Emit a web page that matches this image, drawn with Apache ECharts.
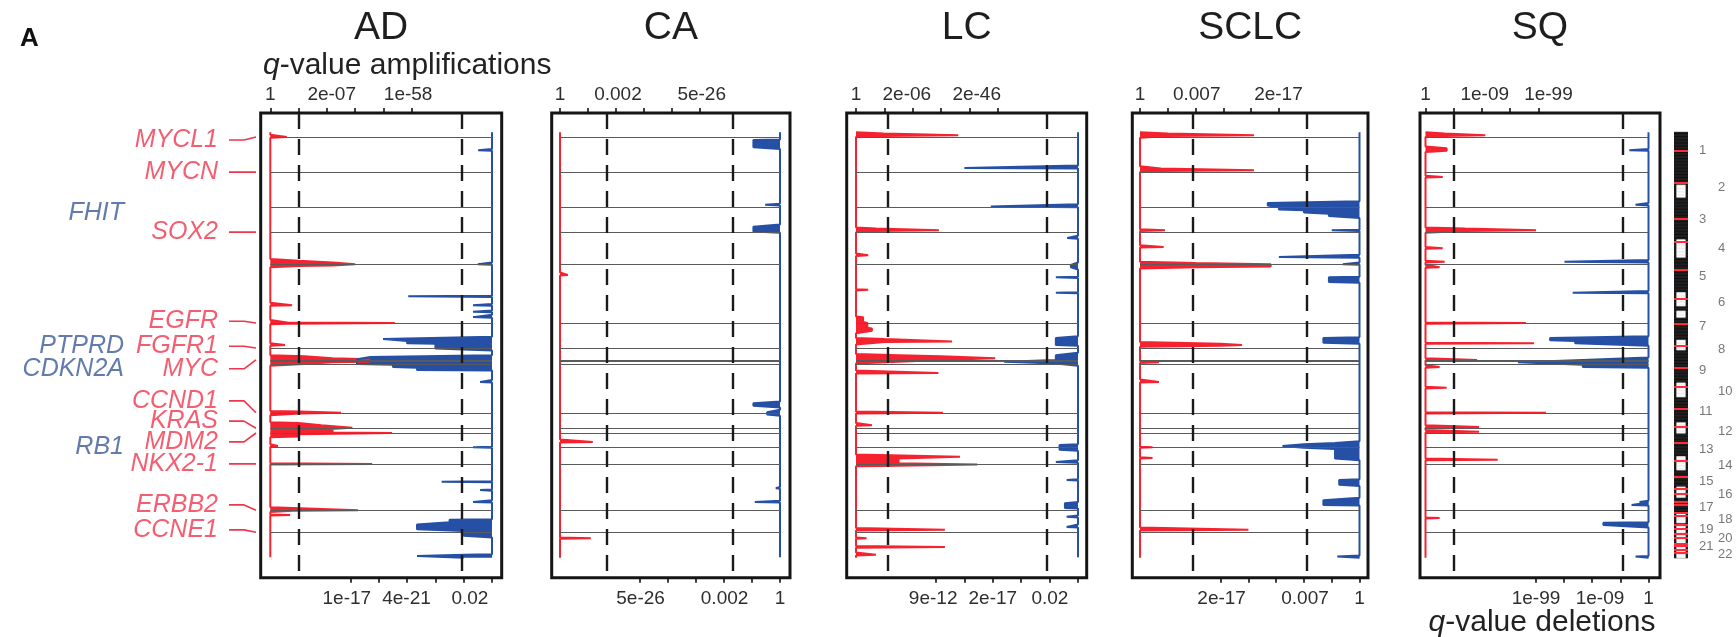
<!DOCTYPE html>
<html><head><meta charset="utf-8">
<script src="https://cdn.jsdelivr.net/npm/echarts@6/dist/echarts.min.js"></script>
<style>html,body{margin:0;padding:0;background:#fff}#c{width:1736px;height:637px}</style>
</head><body><div id="c"></div>
<script>
// ================= DATA =================
const chromNames = ['1','2','3','4','5','6','7','8','9','10','11','12','13','14','15','16','17','18','19','20','21','22'];
const chromLenMb = [247,243,199,191,181,171,159,146,140,135,134,132,114,106,100,89,79,76,64,62,47,50];
const centromereMb = [124,93,91,50,48,60,59,45,49,40,53,35,17,17,19,36,24,17,26,28,13,14];
const panelNames = ['AD','CA','LC','SCLC','SQ'];

// peaks: [genome start Mb, genome end Mb, score in axis units]
const ampAD = [[34,34,0.58],[866,904,1.0],[878,896,2.2],[888,892,3.0],[1164,1164,0.77],[1280,1290,0.6],[1285,1285,4.4],[1433,1433,0.52],
  [1510,1570,1.2],[1520,1556,2.2],[1530,1546,3.5],[1880,1900,1.05],[1891,1891,2.5],[1958,2050,1.0],[1975,2000,1.8],[1988,1996,2.9],
  [2005,2020,2.2],[2024,2030,4.3],[2113,2113,0.27],[2234,2234,3.6],[2530,2555,0.8],[2544,2544,3.1],[2578,2578,0.7]];
const delAD = [[121,121,0.49],[888,888,0.5],[1104,1104,2.96],[1164,1164,0.67],[1211,1211,0.67],[1245,1245,0.67],
  [1393,1400,3.85],[1400,1420,3.0],[1420,1467,2.0],[1514,1530,4.3],[1530,1560,4.77],[1560,1580,3.5],[1580,1601,2.65],
  [1682,1682,0.42],[2120,2120,0.67],[2355,2355,1.78],[2409,2409,0.42],[2490,2490,0.67],
  [2611,2640,1.5],[2640,2680,2.65],[2680,2725,1.0],[2845,2865,1.0],[2852,2860,2.65]];
const ampCA = [[962,962,0.28],[2084,2084,1.17],[2734,2734,1.1]];
const delCA = [[54,108,0.95],[491,491,0.53],[639,673,0.95],[1824,1851,0.95],[1884,1904,0.46],[2396,2396,0.15],[2488,2488,0.9]];
const ampLC = [[10,30,0.97],[20,20,3.6],[650,670,0.7],[660,660,2.92],[828,828,0.43],[1063,1063,0.43],[1245,1285,0.25],[1285,1320,0.4],[1320,1350,0.56],
  [1395,1425,1.0],[1410,1410,3.38],[1500,1554,1.5],[1510,1540,3.0],[1520,1530,4.9],[1622,1622,2.9],[1891,1891,3.06],[1972,1972,0.56],
  [2185,2245,1.5],[2187,2192,3.66],[2238,2243,4.27],[2678,2678,3.13],[2732,2732,0.37],[2793,2793,3.13],[2847,2847,0.7]];
const delLC = [[242,242,4.0],[503,503,3.07],[713,713,0.38],[895,922,0.25],[976,976,0.78],[1083,1083,0.78],[1386,1433,0.78],
  [1500,1568,0.78],[1545,1555,2.6],[2106,2140,0.65],[2221,2221,0.78],[2342,2342,0.4],[2497,2531,0.46],[2591,2591,0.4],[2658,2658,0.4]];
const ampSCLC = [[8,32,1.0],[20,20,4.1],[245,265,0.75],[256,256,4.1],[660,660,0.9],[774,774,0.85],[880,912,2.0],[888,904,4.7],
  [1425,1440,2.9],[1433,1433,3.67],[1548,1548,0.68],[1682,1682,0.68],[2120,2120,0.45],[2194,2194,0.45],[2678,2678,3.9]];
const delSCLC = [[478,500,3.3],[500,520,2.9],[520,545,2.0],[545,572,1.1],[660,660,1.0],[841,841,2.9],[888,888,0.6],[976,1010,1.1],
  [1386,1420,1.3],[2093,2207,0.88],[2100,2130,2.0],[2112,2120,2.77],[2342,2376,0.73],[2476,2510,1.3],[2856,2862,0.8]];
const ampSQ = [[10,30,0.68],[20,20,2.12],[110,130,0.75],[303,303,0.61],[648,672,1.4],[660,660,3.92],[781,781,0.61],[875,875,0.68],
  [908,908,0.5],[1285,1285,3.56],[1420,1420,3.85],[1534,1534,1.83],[1581,1581,0.5],[1723,1723,0.75],[1891,1891,4.27],
  [1985,1985,1.9],[2019,2019,1.9],[2207,2207,2.56],[2598,2598,0.5]];
const delSQ = [[121,121,0.68],[491,491,0.46],[875,875,2.98],[1083,1083,2.69],[1386,1400,3.49],[1400,1433,2.6],[1534,1581,2.33],
  [1550,1560,4.63],[2490,2490,0.32],[2510,2510,0.6],[2631,2658,1.6],[2856,2862,0.46]];

// q-value thresholds (dashed lines), axis units
const ampThreshold = [1.02,1.68,1.13,1.9,1.0];
const delThreshold = [1.07,1.68,1.1,1.89,0.92];
// tick marks and tick labels [position, text]
const ampTicks = [[0,1,2,3,4,5],[0,1,2,3,4,5],[0,1,2,3,4,5],[0,1,2,3,4,5],[0,1,2,3,4]];
const delTicks = [[0,1,2,3,4,5],[0,1,2,3,4,5],[0,1,2,3,4,5],[0,1,2,3,4,5],[0,1,2,3,4]];
const ampLabels = [[[0,'1'],[2.17,'2e-07'],[4.87,'1e-58']],[[0,'1'],[2.07,'0.002'],[5.06,'5e-26']],
  [[0,'1'],[1.79,'2e-06'],[4.25,'2e-46']],[[0,'1'],[2.04,'0.007'],[4.98,'2e-17']],[[0,'1'],[2.1,'1e-09'],[4.36,'1e-99']]];
const delLabels = [[[5.13,'1e-17'],[3.02,'4e-21'],[0.78,'0.02']],[[4.98,'5e-26'],[1.98,'0.002'],[0,'1']],
  [[5.1,'9e-12'],[3,'2e-17'],[0.99,'0.02']],[[4.96,'2e-17'],[1.96,'0.007'],[0,'1']],[[3.99,'1e-99'],[1.72,'1e-09'],[0,'1']]];

// genes: name, genome position Mb, label position Mb, type
const genes = [['MYCL1',34,54,'amp'],['MYCN',269,269,'amp'],['FHIT',505,545,'del'],['SOX2',673,673,'amp'],
  ['EGFR',1285,1272,'amp'],['PTPRD',1545,1440,'del'],['FGFR1',1454,1440,'amp'],['CDKN2A',1561,1595,'del'],
  ['MYC',1534,1595,'amp'],['CCND1',1891,1810,'amp'],['KRAS',1992,1945,'amp'],['MDM2',2026,2086,'amp'],
  ['RB1',2120,2120,'del'],['NKX2-1',2234,2234,'amp'],['ERBB2',2544,2510,'amp'],['CCNE1',2692,2678,'amp']];
const extraLinesMb = [888];
// ideogram white bands (genome Mb)
const ideoWhite = [[357,438],[727,841],[1083,1170],[1205,1245],[1400,1467],[1689,1783],[1958,2026],[2187,2275],[2389,2456],[2566,2631],[2642,2865]];

// ================= LAYOUT =================
const FONT = '"Liberation Sans", Arial, Helvetica, sans-serif';
const RED = '#f5222f', BLUE = '#2550a5', GENE_RED = '#f0364d', GENE_BLUE = '#3b5a97';
const GRID_TOP = 113, GRID_H = 464.7;
const layout = [
  {left:260.7, width:241, offA:9.6, offD:9.7, sp:28.3},
  {left:551.7, width:238.3, offA:8.3, offD:10, sp:28},
  {left:846.7, width:240, offA:9.3, offD:8.7, sp:28.4},
  {left:1132.3, width:235.7, offA:7.7, offD:8.5, sp:27.8},
  {left:1420, width:240, offA:5.5, offD:11.5, sp:28.2}
];
const BIN = 4, PAD_TOP = 32, PAD_BOTTOM = 33;

// ================= BUILD =================
const chromStart = []; let acc = 0;
chromLenMb.forEach(l => { chromStart.push(acc); acc += l; });
const genomeLen = acc;
const nGB = Math.ceil(genomeLen / BIN);
const nBins = PAD_TOP + nGB + PAD_BOTTOM;
const cats = Array.from({length:nBins}, (_, i) => 'b' + i);
const binOf = mb => PAD_TOP + Math.max(0, Math.min(nGB - 1, Math.floor(mb / BIN)));
const catOf = mb => cats[binOf(mb)];

function profile(peaks) {
  const arr = new Array(nBins).fill('-');
  for (let i = PAD_TOP; i < PAD_TOP + nGB; i++) arr[i] = 0;
  peaks.forEach(([s, e, v]) => { for (let b = binOf(s); b <= binOf(e); b++) arr[b] = Math.max(arr[b], v); });
  return arr;
}
function labelFmt(list) {
  return v => { let best = '', bd = 1e9; list.forEach(([x, t]) => { const d = Math.abs(x - v); if (d < bd) { bd = d; best = t; } }); return bd < 0.02 ? best : ''; };
}

const ampData = [ampAD, ampCA, ampLC, ampSCLC, ampSQ];
const delData = [delAD, delCA, delLC, delSCLC, delSQ];
const grids = [], xAxes = [], yAxes = [], series = [], graphics = [];
const lineMb = genes.map(g => g[1]).concat(extraLinesMb);

function addGrid(gridOpt, xOpts, yOpt) {
  const gi = grids.length; grids.push(gridOpt);
  const xi = xOpts.map(o => { xAxes.push(Object.assign({gridIndex:gi}, o)); return xAxes.length - 1; });
  yAxes.push(Object.assign({gridIndex:gi}, yOpt));
  return {gi, xi, yi: yAxes.length - 1};
}

layout.forEach((g, i) => {
  const aMin = -g.offA / g.sp, aMax = (g.width - g.offA) / g.sp;
  const dMin = -g.offD / g.sp, dMax = (g.width - g.offD) / g.sp;
  const ax = addGrid(
    {left:g.left, top:GRID_TOP, width:g.width, height:GRID_H, show:true, borderColor:'#151515', borderWidth:3, backgroundColor:'rgba(0,0,0,0)'},
    [
      {type:'value', position:'top', min:aMin, max:aMax, axisLine:{show:false}, splitLine:{show:false},
        axisTick:{show:true, length:5, customValues:ampTicks[i], lineStyle:{color:'#111', width:1.6}},
        axisLabel:{show:true, customValues:ampLabels[i].map(d => d[0]), formatter:labelFmt(ampLabels[i]), margin:9, fontSize:19, color:'#2e2e2e', fontFamily:FONT}},
      {type:'value', position:'bottom', inverse:true, min:dMin, max:dMax, axisLine:{show:false}, splitLine:{show:false},
        axisTick:{show:true, length:5, customValues:delTicks[i], lineStyle:{color:'#111', width:1.6}},
        axisLabel:{show:true, customValues:delLabels[i].map(d => d[0]), formatter:labelFmt(delLabels[i]), margin:12, fontSize:19, color:'#2e2e2e', fontFamily:FONT}}
    ],
    {type:'category', data:cats, inverse:true, show:false});
  const xEnd = (g.width - g.offA - g.offD) / g.sp;
  series.push({type:'line', xAxisIndex:ax.xi[0], yAxisIndex:ax.yi, data:new Array(nBins).fill('-'), symbol:'none', silent:true, z:1,
    markLine:{silent:true, symbol:['none','none'], label:{show:false}, lineStyle:{color:'#5a5a5a', width:1, type:'solid'},
      data: lineMb.map(m => [{coord:[0, catOf(m)]}, {coord:[xEnd, catOf(m)]}])}});
  series.push({type:'line', name:panelNames[i]+' amp', xAxisIndex:ax.xi[0], yAxisIndex:ax.yi, data:profile(ampData[i]), symbol:'none', silent:true, z:3,
    lineStyle:{color:RED, width:2}, areaStyle:{color:RED, opacity:1},
    markLine:{silent:true, symbol:['none','none'], label:{show:false}, lineStyle:{color:'#1a1a1a', width:2.4, type:[16,10]}, data:[{xAxis:ampThreshold[i]}]}});
  series.push({type:'line', name:panelNames[i]+' del', xAxisIndex:ax.xi[1], yAxisIndex:ax.yi, data:profile(delData[i]), symbol:'none', silent:true, z:3,
    lineStyle:{color:BLUE, width:2}, areaStyle:{color:BLUE, opacity:1},
    markLine:{silent:true, symbol:['none','none'], label:{show:false}, lineStyle:{color:'#1a1a1a', width:2.4, type:[16,10]}, data:[{xAxis:delThreshold[i]}]}});
  graphics.push({type:'text', x:g.left + g.width/2, y:28, style:{text:panelNames[i], font:'39px ' + FONT, fill:'#1e1e1e', textAlign:'center', textVerticalAlign:'middle'}});
});

// annotation grid (gene labels)
const an = addGrid({left:0, top:GRID_TOP, width:layout[0].left, height:GRID_H, show:false},
  [{type:'value', min:0, max:layout[0].left, show:false}], {type:'category', data:cats, inverse:true, show:false});
series.push({type:'scatter', xAxisIndex:an.xi[0], yAxisIndex:an.yi, symbolSize:0, silent:true,
  data: genes.map(([n, p, lp, t]) => ({name:n, value:[t === 'amp' ? 218 : 124, catOf(lp)],
    label:{show:true, position:'left', distance:0, formatter:'{b}', fontSize:25, fontStyle:'italic', fontFamily:FONT, color: t === 'amp' ? GENE_RED : GENE_BLUE}}))});
genes.filter(g => g[3] === 'amp').forEach(([n, p, lp]) => {
  series.push({type:'line', xAxisIndex:an.xi[0], yAxisIndex:an.yi, symbol:'none', silent:true, lineStyle:{color:GENE_RED, width:1.6},
    data:[[229, catOf(lp)], [244, catOf(lp)], [256, catOf(p)]]});
});

// ideogram
const ig = addGrid({left:1674, top:GRID_TOP, width:14, height:GRID_H, show:false},
  [{type:'value', min:0, max:1, show:false}], {type:'category', data:cats, inverse:true, show:false});
const ideoBlack = cats.map((c, i) => (i >= PAD_TOP && i < PAD_TOP + nGB) ? 1 : '-');
const ideoW = new Array(nBins).fill('-'); const ideoPad = new Array(nBins).fill('-');
ideoWhite.forEach(([s, e]) => { for (let b = binOf(s); b <= binOf(e); b++) { ideoW[b] = 0.64; ideoPad[b] = 0.18; } });
const redMarks = centromereMb.map((c, k) => chromStart[k] + c).concat(chromStart.slice(15));
series.push({type:'bar', xAxisIndex:ig.xi[0], yAxisIndex:ig.yi, data:ideoBlack, barWidth:'100%', barGap:'-100%', itemStyle:{color:'#111'}, silent:true});
series.push({type:'bar', xAxisIndex:ig.xi[0], yAxisIndex:ig.yi, data:ideoPad, stack:'w', barWidth:'100%', barGap:'-100%', itemStyle:{color:'rgba(0,0,0,0)'}, silent:true});
series.push({type:'bar', xAxisIndex:ig.xi[0], yAxisIndex:ig.yi, data:ideoW, stack:'w', barWidth:'100%', barGap:'-100%', itemStyle:{color:'#fff'}, silent:true,
  markLine:{silent:true, symbol:['none','none'], label:{show:false}, lineStyle:{color:'#ff2a3a', width:2, type:'solid'},
    data: redMarks.map(m => ({yAxis: catOf(m)}))}});

// chromosome numbers
const cg = addGrid({left:1690, top:GRID_TOP, width:46, height:GRID_H, show:false},
  [{type:'value', min:0, max:46, show:false}], {type:'category', data:cats, inverse:true, show:false});
series.push({type:'scatter', xAxisIndex:cg.xi[0], yAxisIndex:cg.yi, symbolSize:0, silent:true,
  data: chromNames.map((n, k) => ({name:n, value:[k % 2 === 0 ? 9 : 28, catOf(chromStart[k] + chromLenMb[k] / 2)],
    label:{show:true, position:'right', distance:0, formatter:'{b}', fontSize:13, fontFamily:FONT, color:'#555'}}))});

// static text
graphics.push({type:'text', x:20, y:39, style:{text:'A', font:'bold 26px ' + FONT, fill:'#111', textVerticalAlign:'middle'}});
graphics.push({type:'text', x:263, y:66, style:{text:'{i|q}-value amplifications', font:'30px ' + FONT, fill:'#222', textVerticalAlign:'middle',
  rich:{i:{fontStyle:'italic', fontSize:30, fontFamily:FONT, fill:'#222'}}}});
graphics.push({type:'text', x:1542, y:623, style:{text:'{i|q}-value deletions', font:'30px ' + FONT, fill:'#222', textAlign:'center', textVerticalAlign:'middle',
  rich:{i:{fontStyle:'italic', fontSize:30, fontFamily:FONT, fill:'#222'}}}});

const chart = echarts.init(document.getElementById('c'));
chart.setOption({animation:false, backgroundColor:'#fff', grid:grids, xAxis:xAxes, yAxis:yAxes, series:series, graphic:graphics});
</script></body></html>
